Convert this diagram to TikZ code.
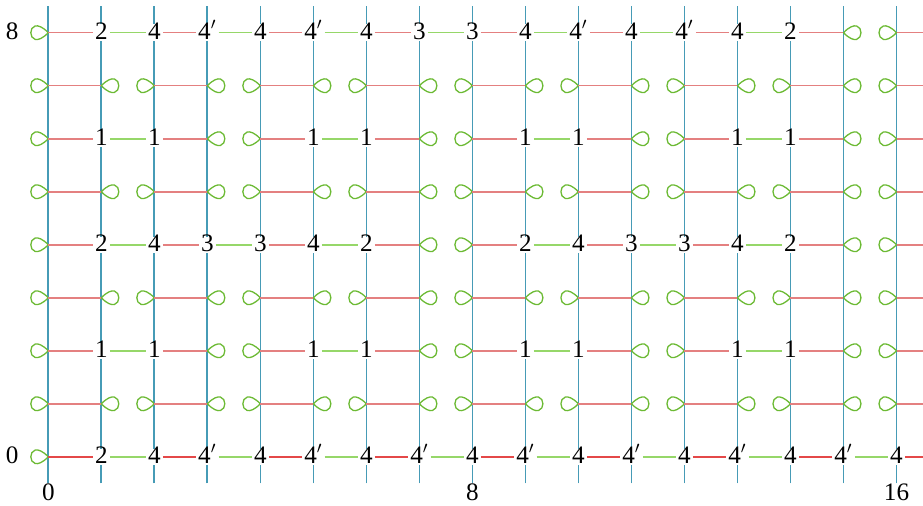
\documentclass[tikz,border=0pt]{standalone}
\usepackage{fontspec}
\setmainfont{Liberation Serif}
\definecolor{blueV}{RGB}{70,155,182}
\definecolor{redE}{RGB}{228,128,128}
\definecolor{redB}{RGB}{228,72,72}
\definecolor{greenE}{RGB}{150,215,105}
\definecolor{greenL}{RGB}{108,186,52}
\tikzset{
  lbl/.style={fill=white, inner sep=1pt, font=\fontsize{13.5}{16}\selectfont, text height=0.68em, text depth=0pt},
  axlbl/.style={inner sep=0pt, font=\fontsize{13.5}{16}\selectfont, text height=0.68em, text depth=0pt},
  vline/.style={line width=0.9pt, draw=blueV},
  edgeline/.style={line width=0.85pt},
  lobe/.style={draw=greenL, line width=0.7pt},
}
\newcommand\gridrow[2]{%
  \foreach \t [count=\i from 0] in #2 {%
    \if L\t
      \coordinate (p-\i-#1) at (\i,#1);
      \draw[lobe] (p-\i-#1) .. controls +(-0.44,0.45) and +(-0.44,-0.45) .. (p-\i-#1);
    \else\if R\t
      \coordinate (p-\i-#1) at (\i,#1);
      \draw[lobe] (p-\i-#1) .. controls +(0.44,0.45) and +(0.44,-0.45) .. (p-\i-#1);
    \else
      \node[lbl] (p-\i-#1) at (\i,#1) {\if P\t 4$'$\else\t\fi};
    \fi\fi
  }%
  \coordinate (e-#1) at (16.5,#1);
}
\newcommand\gridedges[4]{%
  \foreach \t [count=\i from 0] in #2 {%
    \pgfmathtruncatemacro\j{\i+1}%
    \if R\t\else
      \ifnum\i=16 \edef\nxt{e-#1}\else\edef\nxt{p-\j-#1}\fi
      \ifodd\i \draw[edgeline,draw=#4] (p-\i-#1) -- (\nxt); \else \draw[edgeline,draw=#3] (p-\i-#1) -- (\nxt);\fi
    \fi
  }%
}
\begin{document}
\begin{tikzpicture}
\useasboundingbox (-0.911,-0.911) rectangle (16.50,8.617);
% vertical lines
\foreach \x in {0,...,16} {
  \coordinate (vb-\x) at (\x,-0.5);
  \coordinate (vt-\x) at (\x,8.5);
  \draw[vline] (vb-\x) -- (vt-\x);
}
% rows
\def\rowA{L,2,4,P,4,P,4,3,3,4,P,4,P,4,2,R,L}
\def\rowB{L,R,L,R,L,R,L,R,L,R,L,R,L,R,L,R,L}
\def\rowC{L,1,1,R,L,1,1,R,L,1,1,R,L,1,1,R,L}
\def\rowD{L,2,4,3,3,4,2,R,L,2,4,3,3,4,2,R,L}
\def\rowE{L,2,4,P,4,P,4,P,4,P,4,P,4,P,4,P,4}
\gridrow{8}{\rowA}
\gridrow{7}{\rowB}
\gridrow{6}{\rowC}
\gridrow{5}{\rowB}
\gridrow{4}{\rowD}
\gridrow{3}{\rowB}
\gridrow{2}{\rowC}
\gridrow{1}{\rowB}
\gridrow{0}{\rowE}
\gridedges{8}{\rowA}{redE}{greenE}
\gridedges{7}{\rowB}{redE}{greenE}
\gridedges{6}{\rowC}{redE}{greenE}
\gridedges{5}{\rowB}{redE}{greenE}
\gridedges{4}{\rowD}{redE}{greenE}
\gridedges{3}{\rowB}{redE}{greenE}
\gridedges{2}{\rowC}{redE}{greenE}
\gridedges{1}{\rowB}{redE}{greenE}
\gridedges{0}{\rowE}{redB}{greenE}
% axis labels
\node[axlbl] (ly8) at (-0.68,8) {8};
\node[axlbl] (ly0) at (-0.68,0) {0};
\node[axlbl] (lx0) at (0,-0.70) {0};
\node[axlbl] (lx8) at (8,-0.70) {8};
\node[axlbl] (lx16) at (16,-0.70) {16};
\end{tikzpicture}
\end{document}
